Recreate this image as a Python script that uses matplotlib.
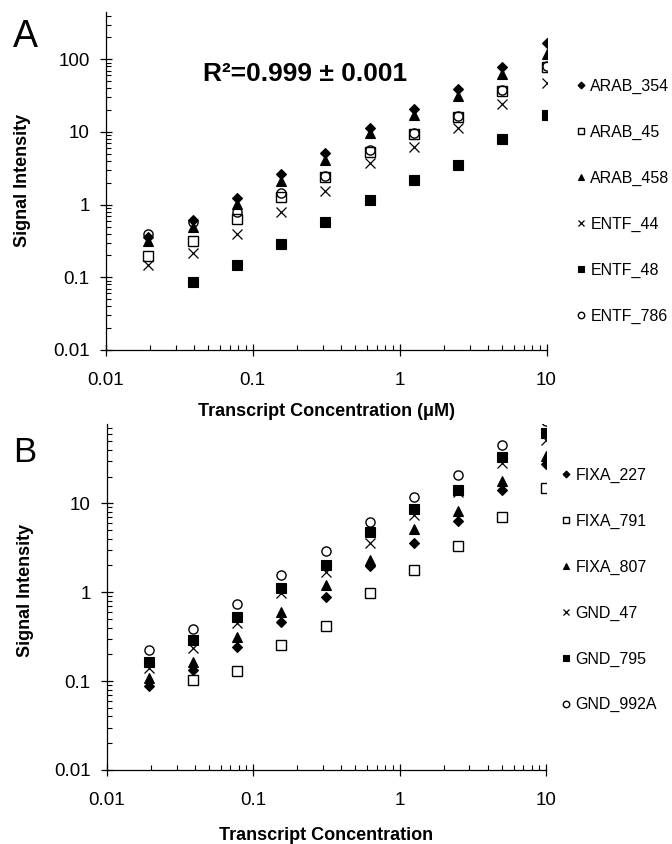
import numpy as np
import matplotlib
matplotlib.use("Agg")
import matplotlib.pyplot as plt
from matplotlib.ticker import LogLocator, FuncFormatter, NullFormatter

plt.rcParams['font.family'] = ['Liberation Sans', 'DejaVu Sans']

# ---------------- data ----------------
conc = [0.0195, 0.039, 0.078, 0.156, 0.3125, 0.625, 1.25, 2.5, 5, 10]

names_a = ["ARAB_354", "ARAB_45", "ARAB_458", "ENTF_44", "ENTF_48", "ENTF_786"]
arab_354 = [0.36, 0.61, 1.24, 2.6, 5.2, 11.3, 21, 39, 78, 165]
arab_45 = [0.196, 0.32, 0.63, 1.26, 2.4, 5.3, 9.3, 16.3, 37, 78]
arab_458 = [0.32, 0.50, 1.02, 2.1, 4.1, 9.6, 17.2, 31, 62, 117]
entf_44 = [0.15, 0.218, 0.39, 0.80, 1.56, 3.7, 6.2, 11.3, 24.5, 47.5]
entf_48 = [np.nan, 0.085, 0.15, 0.29, 0.58, 1.15, 2.15, 3.55, 8.0, 17]
entf_786 = [0.40, 0.58, 0.78, 1.44, 2.5, 5.6, 9.6, 16.5, 38, 80]

names_b = ["FIXA_227", "FIXA_791", "FIXA_807", "GND_47", "GND_795", "GND_992A"]
fixa_227 = [0.088, 0.133, 0.24, 0.466, 0.88, 1.95, 3.56, 6.25, 14.2, 28]
fixa_791 = [np.nan, 0.104, 0.13, 0.255, 0.42, 0.97, 1.78, 3.35, 7.1, 14.8]
fixa_807 = [0.107, 0.165, 0.316, 0.605, 1.19, 2.3, 5.2, 8.1, 18, 34]
gnd_47 = [0.139, 0.234, 0.447, 0.97, 1.7, 3.6, 7.4, 13.4, 28.5, 52]
gnd_795 = [0.165, 0.29, 0.53, 1.11, 2.03, 4.7, 8.7, 14.2, 33, 61]
gnd_992a = [0.224, 0.39, 0.74, 1.57, 2.92, 6.1, 11.8, 20.6, 45.7, 84]

series_a = [arab_354, arab_45, arab_458, entf_44, entf_48, entf_786]
series_b = [fixa_227, fixa_791, fixa_807, gnd_47, gnd_795, gnd_992a]

# marker styles: (marker, size, filled)
styles = [("D", 5.0, True), ("s", 6.6, False), ("^", 6.8, True),
          ("x", 7.0, False), ("s", 6.6, True), ("o", 6.6, False)]

W, H = 672, 844
fig = plt.figure(figsize=(W / 100, H / 100), dpi=100)


def fx(px):
    return px / W


def fy(py):
    return 1 - py / H


ax_a = fig.add_axes([fx(105.7), fy(350), (546.5 - 105.7) / W, (350 - 12.3) / H])
ax_b = fig.add_axes([fx(106.7), fy(770), (546.0 - 106.7) / W, (770 - 424) / H])


def draw(ax, series, names):
    handles = []
    for vals, name, (m, ms, filled) in zip(series, names, styles):
        if m == "x":
            h, = ax.plot(conc, vals, linestyle="none", marker=m, ms=ms,
                         color="black", mew=0.9, label=name)
        elif filled:
            h, = ax.plot(conc, vals, linestyle="none", marker=m, ms=ms,
                         mfc="black", mec="black", mew=0.8, label=name)
        else:
            h, = ax.plot(conc, vals, linestyle="none", marker=m, ms=ms,
                         mfc="none", mec="black", mew=1.0, label=name)
        handles.append(h)
    ax.set_xscale("log")
    ax.set_yscale("log")
    ax.set_xlim(0.01, 10)
    for s in ["top", "right"]:
        ax.spines[s].set_visible(False)
    for s in ["left", "bottom"]:
        ax.spines[s].set_linewidth(0.9)
    fmt = FuncFormatter(lambda v, p: "{:g}".format(v))
    ax.xaxis.set_major_formatter(fmt)
    ax.yaxis.set_major_formatter(fmt)
    ax.xaxis.set_minor_locator(LogLocator(base=10, subs=np.arange(2, 10), numticks=20))
    ax.yaxis.set_minor_locator(LogLocator(base=10, subs=np.arange(2, 10), numticks=20))
    ax.xaxis.set_minor_formatter(NullFormatter())
    ax.yaxis.set_minor_formatter(NullFormatter())
    ax.tick_params(which="major", direction="inout", length=8, width=0.9,
                   labelsize=13.5, color="black")
    ax.tick_params(which="minor", direction="in", length=3.6, width=0.8)
    ax.tick_params(axis="y", which="major", pad=7.5)
    ax.tick_params(axis="x", which="major", pad=12)
    ax.set_ylabel("Signal Intensity", fontsize=13, fontweight="bold")
    return handles


h_a = draw(ax_a, series_a, names_a)
ax_a.set_ylim(0.01, 443)
h_b = draw(ax_b, series_b, names_b)
ax_b.set_ylim(0.01, 78)

ax_a.set_xlabel("Transcript Concentration (\u03bcM)", fontsize=13, fontweight="bold")
ax_b.set_xlabel("Transcript Concentration", fontsize=13, fontweight="bold")

# label positions
ha = (350 - 12.3)
hb = (770 - 424)
ax_a.xaxis.set_label_coords(0.5, -(411 - 350) / ha)
ax_a.xaxis.label.set_va("center")
ax_b.xaxis.set_label_coords(0.5, -(835 - 770) / hb)
ax_b.xaxis.label.set_va("center")
ax_a.yaxis.set_label_coords(-(105.7 - 23) / 440.8, (350 - 180) / ha)
ax_a.yaxis.label.set_va("center")
ax_b.yaxis.set_label_coords(-(106.7 - 26) / 439.3, (770 - 590) / hb)
ax_b.yaxis.label.set_va("center")

# panel letters and annotation
fig.text(fx(13), fy(37), "A", fontsize=27, va="center", ha="left")
fig.text(fx(13), fy(452), "B", fontsize=25, va="center", ha="left")
fig.text(fx(305), fy(74), "R\u00b2=0.999 \u00b1 0.001", fontsize=19,
         fontweight="bold", ha="center", va="center")

# legends
leg_kw = dict(frameon=False, fontsize=11.5, handlelength=0.6, handletextpad=0.3,
              labelspacing=1.93, borderpad=0, borderaxespad=0, markerscale=0.7,
              loc="center left")
la = fig.legend(handles=h_a, bbox_to_anchor=(fx(576), fy(201.5)), **leg_kw)
lb = fig.legend(handles=h_b, bbox_to_anchor=(fx(561), fy(590)), **leg_kw)

fig.savefig("out.png", dpi=100)
